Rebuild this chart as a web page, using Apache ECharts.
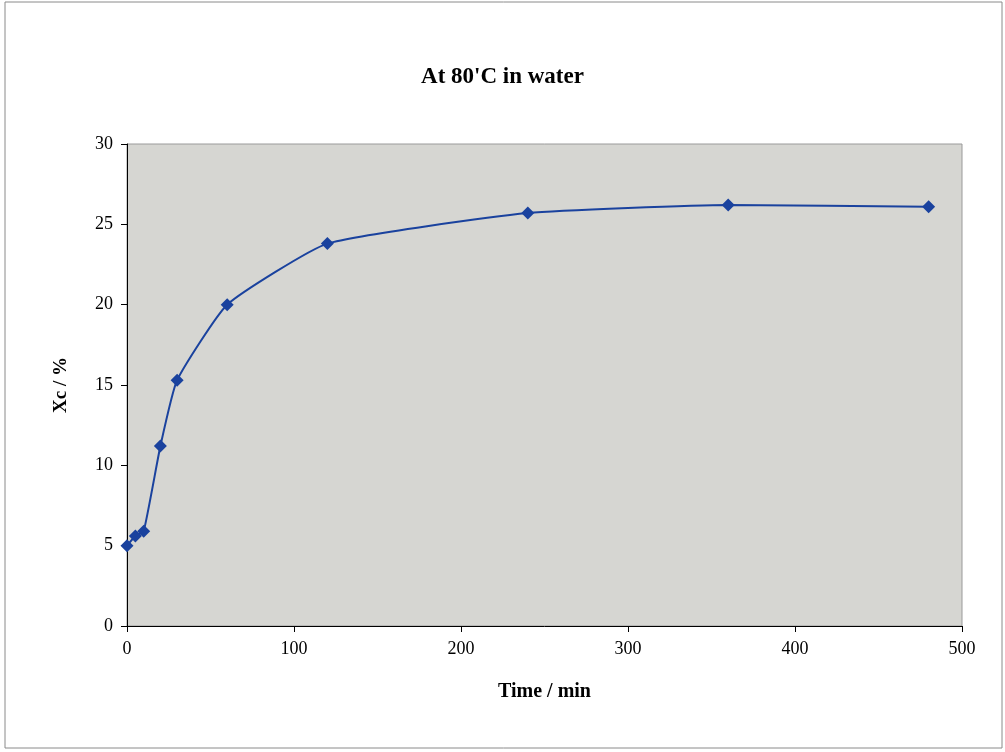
<!DOCTYPE html>
<html>
<head>
<meta charset="utf-8">
<script src="https://cdn.jsdelivr.net/npm/echarts@6/dist/echarts.min.js"></script>
<style>
  html, body { margin: 0; padding: 0; background: #fff; }
  #main { width: 1005px; height: 752px; }
</style>
</head>
<body>
<div id="main"></div>
<script>
// 数据
const times = [0, 5, 10, 20, 30, 60, 120, 240, 360, 480]
const xc = [5.0, 5.6, 5.9, 11.2, 15.3, 20.0, 23.8, 25.7, 26.2, 26.1]

let points = []
times.forEach((t, i) => {
    points.push([t, xc[i]])
})

let myChart = echarts.init(document.getElementById('main'))
const serif = '"Liberation Serif", "DejaVu Serif", serif'

myChart.setOption({
    backgroundColor: '#fff',
    animation: false,
    title: {
        text: "At 80'C in water",
        left: 'center',
        top: 61,
        textStyle: { fontFamily: serif, fontSize: 23, fontWeight: 'bold', color: '#000' }
    },
    graphic: [
        {
            type: 'rect',
            shape: { x: 5, y: 2, width: 997, height: 746 },
            style: { fill: 'none', stroke: '#8a8a8a', lineWidth: 1 },
            silent: true
        }
    ],
    grid: {
        left: 127,
        right: 43,
        top: 144,
        bottom: 126,
        show: true,
        backgroundColor: '#d6d6d2',
        borderColor: '#9a9a9a',
        borderWidth: 1
    },
    xAxis: {
        type: 'value',
        min: 0,
        max: 500,
        interval: 100,
        name: 'Time / min',
        nameLocation: 'middle',
        nameGap: 56,
        nameTextStyle: { fontFamily: serif, fontSize: 20, fontWeight: 'bold', color: '#000' },
        axisLine: { show: true, lineStyle: { color: '#000', width: 1 } },
        axisTick: { show: true, length: 6, lineStyle: { color: '#000' } },
        axisLabel: { fontFamily: serif, fontSize: 18, color: '#000', margin: 14 },
        splitLine: { show: false }
    },
    yAxis: {
        type: 'value',
        min: 0,
        max: 30,
        interval: 5,
        name: 'Xc / %',
        nameLocation: 'middle',
        nameGap: 56,
        nameTextStyle: { fontFamily: serif, fontSize: 19, fontWeight: 'bold', color: '#000' },
        axisLine: { show: true, lineStyle: { color: '#000', width: 1 } },
        axisTick: { show: true, length: 6, lineStyle: { color: '#000' } },
        axisLabel: { fontFamily: serif, fontSize: 18, color: '#000', margin: 14 },
        splitLine: { show: false }
    },
    series: [
        {
            type: 'line',
            data: points,
            smooth: 0.15,
            symbol: 'diamond',
            symbolSize: 13,
            lineStyle: { color: '#1a429e', width: 2 },
            itemStyle: { color: '#1a429e' }
        }
    ]
})
</script>
</body>
</html>
